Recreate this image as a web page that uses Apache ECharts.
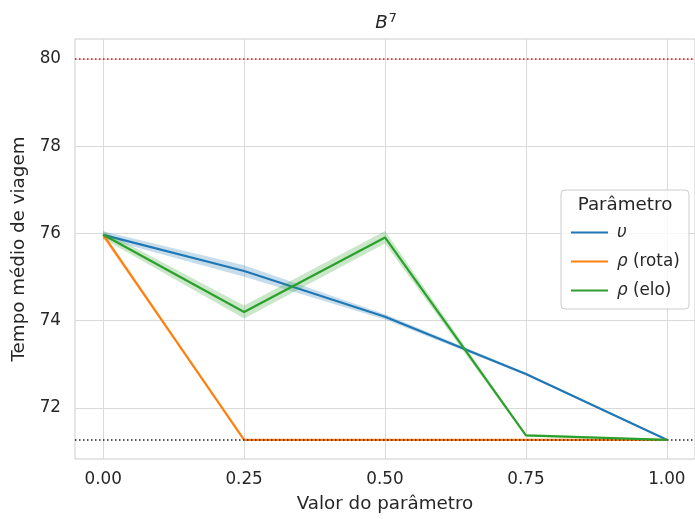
<!DOCTYPE html>
<html>
<head>
<meta charset="utf-8">
<script src="https://cdn.jsdelivr.net/npm/echarts@6/dist/echarts.min.js"></script>
<style>
html,body{margin:0;padding:0;background:#fff;}
#chart{width:695px;height:519px;}
</style>
</head>
<body>
<div id="chart"></div>
<script>
// ---- data ----
const xValues = [0, 0.25, 0.5, 0.75, 1.0];
const xTicks = [0, 0.25, 0.5, 0.75, 1.0];
const yTicks = [72, 74, 76, 78, 80];
const seriesNames = ['υ', 'ρ (rota)', 'ρ (elo)'];

const upsilonMean = [75.97, 75.14, 74.09, 72.78, 71.27];
const upsilonLow  = [75.89, 75.01, 74.03, 72.75, 71.26];
const upsilonHigh = [76.05, 75.27, 74.15, 72.81, 71.28];

const rotaMean = [75.97, 71.27, 71.27, 71.27, 71.27];
const rotaLow  = [75.89, 71.26, 71.26, 71.26, 71.26];
const rotaHigh = [76.03, 71.28, 71.28, 71.28, 71.28];

const eloMean = [75.97, 74.20, 75.91, 71.37, 71.27];
const eloLow  = [75.88, 74.05, 75.77, 71.34, 71.26];
const eloHigh = [76.06, 74.35, 76.06, 71.40, 71.28];

const upperRef = 80;
const lowerRef = 71.27;

// ---- build ----
const colors = ['#1f77b4', '#ff7f0e', '#2ca02c'];
const bandColors = ['rgba(31,119,180,0.25)', 'rgba(255,127,14,0.25)', 'rgba(44,160,44,0.25)'];
const means = [upsilonMean, rotaMean, eloMean];
const lows = [upsilonLow, rotaLow, eloLow];
const highs = [upsilonHigh, rotaHigh, eloHigh];
const FONT = 'DejaVu Sans';
const TXT = '#262626';

const series = [];
for (let k = 0; k < 3; k++) {
  const bandPts = xValues.map((x, i) => [x, lows[k][i], highs[k][i]]);
  series.push({
    type: 'custom', name: 'band_' + k, silent: true, z: 2 + k,
    data: [0],
    renderItem: (params, api) => {
      const upper = bandPts.map(p => api.coord([p[0], p[2]]));
      const lower = bandPts.slice().reverse().map(p => api.coord([p[0], p[1]]));
      return {
        type: 'polygon',
        shape: { points: upper.concat(lower) },
        style: { fill: bandColors[k] }
      };
    }
  });
  series.push({
    type: 'line', name: seriesNames[k],
    data: xValues.map((x, i) => [x, means[k][i]]),
    symbol: 'none', color: colors[k],
    lineStyle: { color: colors[k], width: 2.2 }, z: 3 + k
  });
}
series.push({
  type: 'line', name: 'refs', data: [], silent: true,
  markLine: {
    symbol: 'none', silent: true, label: { show: false },
    data: [
      { yAxis: upperRef, lineStyle: { color: '#ff0000', width: 1.5, type: [1.5, 2.5] } },
      { yAxis: lowerRef, lineStyle: { color: '#222222', width: 1.5, type: [1.5, 2.5] } }
    ]
  },
  z: 10
});

const chart = echarts.init(document.getElementById('chart'));
chart.setOption({
  animation: false,
  backgroundColor: '#ffffff',
  grid: {
    left: 75, right: -2, top: 39, bottom: 60,
    show: true, borderColor: '#cccccc', borderWidth: 1, backgroundColor: 'transparent'
  },
  xAxis: {
    type: 'value', min: -0.05, max: 1.05,
    name: 'Valor do parâmetro', nameLocation: 'middle', nameGap: 36,
    nameTextStyle: { fontFamily: FONT, fontSize: 18.3, color: TXT },
    axisLine: { show: false }, axisTick: { show: false, customValues: xTicks },
    axisLabel: { customValues: xTicks, formatter: v => v.toFixed(2), margin: 12,
      fontFamily: FONT, fontSize: 16.8, color: TXT },
    splitLine: { show: true, lineStyle: { color: '#dadada', width: 1 } }
  },
  yAxis: {
    type: 'value', min: 70.83, max: 80.46,
    name: 'Tempo médio de viagem', nameLocation: 'middle', nameGap: 44,
    nameTextStyle: { fontFamily: FONT, fontSize: 18.3, color: TXT },
    axisLine: { show: false }, axisTick: { show: false, customValues: yTicks },
    axisLabel: { customValues: yTicks, formatter: v => String(v), margin: 14,
      fontFamily: FONT, fontSize: 16.8, color: TXT },
    splitLine: { show: true, lineStyle: { color: '#dadada', width: 1 } }
  },
  legend: {
    data: seriesNames.map((n, k) => ({ name: n, icon: 'rect', itemStyle: { color: colors[k] } })),
    orient: 'vertical', left: 566, top: 219,
    itemWidth: 37, itemHeight: 2.2, itemGap: 12, z: 20,
    formatter: name => {
      const g = name.charAt(0), rest = name.slice(1);
      return '{i|' + g + '}' + (rest ? '{n|' + rest + '}' : '');
    },
    textStyle: {
      color: TXT, fontFamily: FONT, fontSize: 16.8, padding: [0, 0, 0, 4],
      rich: {
        i: { fontStyle: 'italic', fontFamily: FONT, fontSize: 16.8, color: TXT },
        n: { fontFamily: FONT, fontSize: 16.8, color: TXT }
      }
    }
  },
  graphic: [
    { type: 'rect', z: 15, shape: { x: 561, y: 190, width: 128, height: 119, r: 4 },
      style: { fill: 'rgba(255,255,255,0.8)', stroke: '#cccccc', lineWidth: 1 } },
    { type: 'text', z: 16, x: 625, y: 205,
      style: { text: 'Parâmetro', align: 'center', verticalAlign: 'middle',
        font: '18.3px "DejaVu Sans"', fill: TXT } },
    { type: 'text', z: 16, x: 386, y: 23,
      style: { text: '{b|B}{s|7}', align: 'center', verticalAlign: 'middle',
        rich: {
          b: { fontStyle: 'italic', fontFamily: FONT, fontSize: 18.3, fill: TXT, lineHeight: 22 },
          s: { fontFamily: FONT, fontSize: 12.8, fill: TXT, verticalAlign: 'top', lineHeight: 12, padding: [0, 0, 0, 1] }
        } } }
  ],
  series: series
});
</script>
</body>
</html>
